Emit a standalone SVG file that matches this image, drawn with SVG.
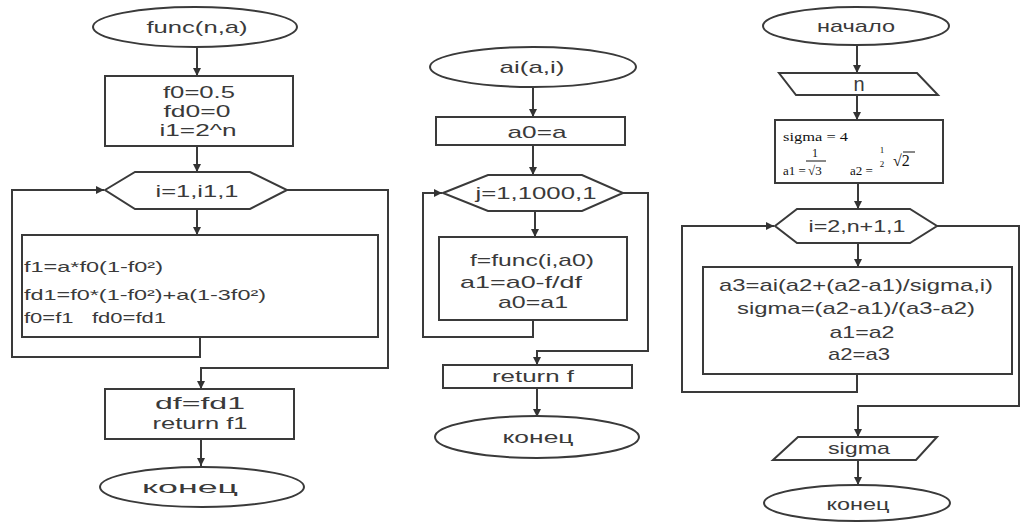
<svg xmlns="http://www.w3.org/2000/svg" width="1021" height="522" viewBox="0 0 1021 522">
<defs>
<marker id="ah" viewBox="0 0 8 8" refX="8" refY="4" markerWidth="8" markerHeight="8" markerUnits="userSpaceOnUse" orient="auto">
<path d="M0,0 L8,4 L0,8 z" fill="#333"/>
</marker>
<style>
.s{fill:none;stroke:#3a3a3a;stroke-width:2}
.n{fill:#fff;stroke:#3a3a3a;stroke-width:2}
.c{fill:none;stroke:#3a3a3a;stroke-width:2;marker-end:url(#ah)}
text{font-family:"Liberation Sans",Arial,sans-serif;fill:#3a3a3a;dominant-baseline:central}
.m{text-anchor:middle;font-size:17px}
.l{font-size:15px}
.sf{font-family:"Liberation Serif","Times New Roman",serif;fill:#111;dominant-baseline:alphabetic}
</style>
</defs>
<rect width="1021" height="522" fill="#fff"/>
<g id="connectors">
<path class="c" d="M197,48 V76"/>
<path class="c" d="M197,146 V172"/>
<path class="c" d="M197,209 V235"/>
<path class="c" d="M200,337 V357 H12 V190 H104"/>
<path class="c" d="M287,190 H388 V368 H201 V389"/>
<path class="c" d="M201,439 V466"/>
<path class="c" d="M533,87 V117"/>
<path class="c" d="M533,145 V175"/>
<path class="c" d="M535,211 V237"/>
<path class="c" d="M533,320 V337 H423 V193 H442"/>
<path class="c" d="M623,193 H648 V351 H537 V365"/>
<path class="c" d="M537,388 V417"/>
<path class="c" d="M857,45 V73"/>
<path class="c" d="M857,95 V120"/>
<path class="c" d="M858,183 V209"/>
<path class="c" d="M858,243 V267"/>
<path class="c" d="M857,374 V392 H682 V226 H774"/>
<path class="c" d="M937,226 H1019 V406 H858 V437"/>
<path class="c" d="M858,460 V485"/>
</g>
<g id="n1">
<ellipse class="n" cx="195" cy="27" rx="102" ry="20"/>
<text class="m" x="197" y="27" textLength="101" lengthAdjust="spacingAndGlyphs">func(n,a)</text>
</g>
<g id="n2">
<rect class="n" x="105" y="76" width="188" height="70"/>
<text class="m" x="199" y="92" textLength="72" lengthAdjust="spacingAndGlyphs">f0=0.5</text>
<text class="m" x="197" y="111" textLength="67" lengthAdjust="spacingAndGlyphs">fd0=0</text>
<text class="m" x="198" y="130" textLength="77" lengthAdjust="spacingAndGlyphs">i1=2^n</text>
</g>
<g id="n3">
<polygon class="n" points="105,190 135,172 250,172 287,190 250,209 135,209"/>
<text class="m" x="197" y="191" textLength="83" lengthAdjust="spacingAndGlyphs">i=1,i1,1</text>
</g>
<g id="n4">
<rect class="n" x="22" y="235" width="356" height="102"/>
<text class="l" x="24" y="266" textLength="139" lengthAdjust="spacingAndGlyphs">f1=a*f0(1-f0²)</text>
<text class="l" x="24" y="294" textLength="242" lengthAdjust="spacingAndGlyphs">fd1=f0*(1-f0²)+a(1-3f0²)</text>
<text class="l" x="24" y="317" textLength="142" lengthAdjust="spacingAndGlyphs" xml:space="preserve">f0=f1   fd0=fd1</text>
</g>
<g id="n5">
<rect class="n" x="105" y="389" width="189" height="50"/>
<text class="m" x="200" y="403" textLength="90" lengthAdjust="spacingAndGlyphs">df=fd1</text>
<text class="m" x="200" y="423" textLength="95" lengthAdjust="spacingAndGlyphs">return f1</text>
</g>
<g id="n6">
<ellipse class="n" cx="202" cy="487" rx="102" ry="20"/>
<text class="m" x="190" y="487" textLength="96" lengthAdjust="spacingAndGlyphs">конец</text>
</g>
<g id="m1">
<ellipse class="n" cx="533" cy="67" rx="103" ry="20"/>
<text class="m" x="532" y="67" textLength="65" lengthAdjust="spacingAndGlyphs">ai(a,i)</text>
</g>
<g id="m2">
<rect class="n" x="436" y="117" width="189" height="28"/>
<text class="m" x="537" y="132" textLength="59" lengthAdjust="spacingAndGlyphs">a0=a</text>
</g>
<g id="m3">
<polygon class="n" points="443,193 488,175 582,175 623,193 582,211 488,211"/>
<text class="m" x="536" y="193" textLength="121" lengthAdjust="spacingAndGlyphs">j=1,1000,1</text>
</g>
<g id="m4">
<rect class="n" x="439" y="237" width="188" height="83"/>
<text class="m" x="532" y="260" textLength="124" lengthAdjust="spacingAndGlyphs">f=func(i,a0)</text>
<text class="m" x="521" y="282" textLength="122" lengthAdjust="spacingAndGlyphs">a1=a0-f/df</text>
<text class="m" x="533" y="302" textLength="70" lengthAdjust="spacingAndGlyphs">a0=a1</text>
</g>
<g id="m5">
<rect class="n" x="443" y="365" width="189" height="23"/>
<text class="m" x="533" y="376" textLength="82" lengthAdjust="spacingAndGlyphs">return f</text>
</g>
<g id="m6">
<ellipse class="n" cx="537" cy="437" rx="102" ry="21"/>
<text class="m" x="538" y="437" textLength="71" lengthAdjust="spacingAndGlyphs">конец</text>
</g>
<g id="r1">
<ellipse class="n" cx="856" cy="26" rx="93" ry="19"/>
<text class="m" x="856" y="26" textLength="78" lengthAdjust="spacingAndGlyphs">начало</text>
</g>
<g id="r2">
<polygon class="n" points="779,73 917,73 938,95 796,95"/>
<text class="m" x="859" y="84" font-size="20" style="font-size:20px">n</text>
</g>
<g id="r3">
<rect class="n" x="775" y="120" width="168" height="63"/>
<text class="sf" x="783" y="141" font-size="13" textLength="65" lengthAdjust="spacingAndGlyphs">sigma = 4</text>
<text class="sf" x="783" y="175" font-size="13">a1 =</text>
<text class="sf" x="815" y="157" font-size="12" text-anchor="middle">1</text>
<line x1="806" y1="161" x2="826" y2="161" stroke="#111" stroke-width="1"/>
<text class="sf" x="808" y="175" font-size="13">√3</text>
<text class="sf" x="850" y="175" font-size="13">a2 =</text>
<text class="sf" x="882" y="153" font-size="9" text-anchor="middle">1</text>
<text class="sf" x="882" y="167" font-size="9" text-anchor="middle">2</text>
<text class="sf" x="893" y="166" font-size="16">√2</text>
<line x1="903" y1="152" x2="915" y2="152" stroke="#111" stroke-width="1"/>
</g>
<g id="r4">
<polygon class="n" points="775,226 797,209 910,209 937,226 910,243 797,243"/>
<text class="m" x="857" y="226" textLength="97" lengthAdjust="spacingAndGlyphs">i=2,n+1,1</text>
</g>
<g id="r5">
<rect class="n" x="703" y="267" width="309" height="107"/>
<text class="m" x="856" y="285" textLength="274" lengthAdjust="spacingAndGlyphs">a3=ai(a2+(a2-a1)/sigma,i)</text>
<text class="m" x="856" y="308" textLength="238" lengthAdjust="spacingAndGlyphs">sigma=(a2-a1)/(a3-a2)</text>
<text class="m" x="862" y="332" textLength="65" lengthAdjust="spacingAndGlyphs">a1=a2</text>
<text class="m" x="859" y="354" textLength="62" lengthAdjust="spacingAndGlyphs">a2=a3</text>
</g>
<g id="r6">
<polygon class="n" points="798,437 937,437 916,460 773,460"/>
<text class="m" x="859" y="448" textLength="62" lengthAdjust="spacingAndGlyphs">sigma</text>
</g>
<g id="r7">
<ellipse class="n" cx="857" cy="503" rx="93" ry="18"/>
<text class="m" x="858" y="504" textLength="63" lengthAdjust="spacingAndGlyphs">конец</text>
</g>
</svg>
